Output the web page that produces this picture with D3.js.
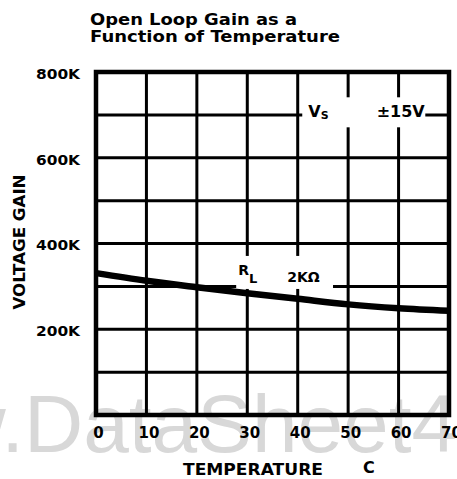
<!DOCTYPE html>
<html>
<head>
<meta charset="utf-8">
<script src="https://cdn.jsdelivr.net/npm/d3@7"></script>
<style>
  body { margin: 0; background: #fff; }
  svg { display: block; }
  text { font-family: "DejaVu Sans", sans-serif; font-weight: bold; fill: #000; }
</style>
</head>
<body>
<svg width="457" height="479"></svg>
<script>
// values (gain in K)
const temps = [0, 10, 20, 30, 40, 50, 60, 70];
const gainK = [331, 313, 298, 284, 271, 258, 249, 243];
const yTicks = [200, 400, 600, 800];
const xTicks = [0, 10, 20, 30, 40, 50, 60, 70];

const margin = {top: 72, right: 8, bottom: 64, left: 96};
const width = 457 - margin.left - margin.right;
const height = 479 - margin.top - margin.bottom;

const svg = d3.select("svg");

// datasheet watermark, placed so that "DataSheet4" starts near x=30
const wm = svg.append("text")
    .attr("y", 452)
    .style("font-family", "'Liberation Sans', Arial, sans-serif")
    .style("font-size", "82px")
    .style("font-weight", "normal")
    .style("fill", "#d8d8d8")
    .text("www.DataSheet4U.com");
wm.attr("x", 24 - wm.node().getSubStringLength(0, 4));

// title
svg.append("text")
    .attr("x", 90).attr("y", 25)
    .attr("textLength", 207).attr("lengthAdjust", "spacingAndGlyphs")
    .style("font-size", "16px")
    .text("Open Loop Gain as a");
svg.append("text")
    .attr("x", 90).attr("y", 42)
    .attr("textLength", 250).attr("lengthAdjust", "spacingAndGlyphs")
    .style("font-size", "16px")
    .text("Function of Temperature");

const g = svg.append("g")
    .attr("transform", "translate(" + margin.left + "," + margin.top + ")");

const x = d3.scaleLinear().domain([0, 70]).range([0, width]);
const y = d3.scaleLinear().domain([0, 800]).range([height, 0]);

// grid
g.selectAll(".hgrid").data(d3.range(100, 800, 100))
  .enter().append("line")
    .attr("x1", 0).attr("x2", width)
    .attr("y1", d => y(d)).attr("y2", d => y(d))
    .attr("stroke", "#000").attr("stroke-width", 3);

g.selectAll(".vgrid").data(xTicks.slice(1, -1))
  .enter().append("line")
    .attr("x1", d => x(d)).attr("x2", d => x(d))
    .attr("y1", 0).attr("y2", height)
    .attr("stroke", "#000").attr("stroke-width", 3);

g.append("rect")
    .attr("width", width).attr("height", height)
    .attr("fill", "none")
    .attr("stroke", "#000").attr("stroke-width", 4.5);

// gaps in the grid behind the two labels
g.append("rect")
    .attr("x", x(40.9)).attr("y", y(741))
    .attr("width", x(65.3) - x(40.9)).attr("height", y(671) - y(741))
    .attr("fill", "#fff");
g.append("rect")
    .attr("x", x(27.8)).attr("y", y(371))
    .attr("width", x(47) - x(27.8)).attr("height", y(294) - y(371))
    .attr("fill", "#fff");

// curve
const line = d3.line()
    .x((d, i) => x(temps[i]))
    .y(d => y(d))
    .curve(d3.curveMonotoneX);

g.append("path")
    .datum(gainK)
    .attr("d", line)
    .attr("fill", "none")
    .attr("stroke", "#000")
    .attr("stroke-width", 6.5);

// labels on the chart
const vs = g.append("text")
    .attr("x", x(42.1)).attr("y", y(695))
    .style("font-size", "16px");
vs.append("tspan").text("V");
vs.append("tspan").attr("dy", 2).style("font-size", "11px").text("S");
vs.append("tspan").attr("dy", -2).attr("dx", 48).text("±15V");

const rl = g.append("text")
    .attr("x", x(28.2)).attr("y", y(326))
    .style("font-size", "14px");
rl.append("tspan").text("R");
rl.append("tspan").attr("dy", 8).style("font-size", "13px").text("L");
rl.append("tspan").attr("dy", -1).attr("dx", 30).text("2KΩ");

// axes
const yAxis = g.append("g")
    .call(d3.axisLeft(y).tickValues(yTicks).tickSize(0).tickPadding(16).tickFormat(d => d + "K"));
yAxis.select(".domain").remove();
yAxis.selectAll("text")
    .attr("dy", "0.45em")
    .attr("textLength", 44).attr("lengthAdjust", "spacingAndGlyphs")
    .style("font-size", "14px")
    .style("font-family", "'DejaVu Sans', sans-serif");

const xAxis = g.append("g")
    .attr("transform", "translate(0," + height + ")")
    .call(d3.axisBottom(x).tickValues(xTicks).tickSize(0).tickPadding(12).tickFormat(d3.format("d")));
xAxis.select(".domain").remove();
xAxis.selectAll("text")
    .attr("dx", 2)
    .style("font-size", "15px")
    .style("font-family", "'DejaVu Sans', sans-serif");

// axis titles
svg.append("text")
    .attr("transform", "translate(25,242) rotate(-90)")
    .style("text-anchor", "middle")
    .attr("textLength", 135).attr("lengthAdjust", "spacingAndGlyphs")
    .style("font-size", "16px")
    .text("VOLTAGE GAIN");

svg.append("text")
    .attr("x", 183).attr("y", 475)
    .attr("textLength", 140).attr("lengthAdjust", "spacingAndGlyphs")
    .style("font-size", "16px")
    .text("TEMPERATURE");
svg.append("text")
    .attr("x", 363).attr("y", 473)
    .style("font-size", "16px")
    .text("C");
</script>
</body>
</html>
